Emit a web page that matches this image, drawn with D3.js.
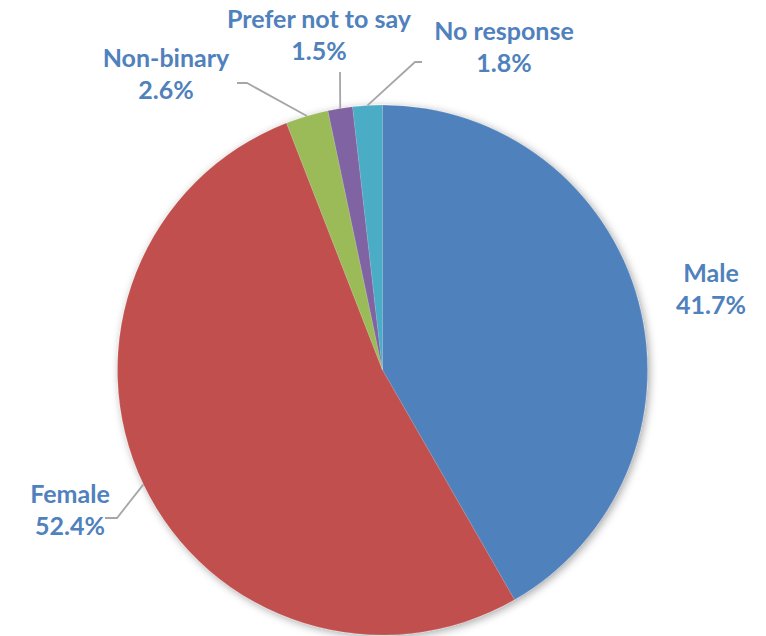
<!DOCTYPE html>
<html>
<head>
<meta charset="utf-8">
<script src="https://cdn.jsdelivr.net/npm/d3@7"></script>
<style>
  html, body { margin: 0; padding: 0; background: #fff; }
  svg { display: block; }
</style>
</head>
<body>
<script>
// Gender breakdown of respondents (percent)
const categories = ["Male", "Female", "Non-binary", "Prefer not to say", "No response"];
const values = [41.7, 52.4, 2.6, 1.5, 1.8];
const valueLabels = ["41.7%", "52.4%", "2.6%", "1.5%", "1.8%"];
const colors = ["#4F81BD", "#C0504D", "#9BBB59", "#8064A2", "#4BACC6"];

const W = 766, H = 636;
const cx = 382.5, cy = 370, R = 265;

// Label placement: text centre / first baseline, plus elbow points of the leader line
const labelLayout = [
  { x: 711, y: 282, leader: null },
  { x: 70,  y: 503, leader: [[117, 518], [105, 518]] },
  { x: 166, y: 67,  leader: [[247, 83], [237, 83]] },
  { x: 319, y: 28,  leader: [[340, 72]] },
  { x: 504, y: 40,  leader: [[415, 62], [422, 62]] }
];

const svg = d3.select("body").append("svg")
  .attr("width", W).attr("height", H);

const defs = svg.append("defs");
const f = defs.append("filter").attr("id", "pieShadow")
  .attr("x", "-10%").attr("y", "-10%").attr("width", "120%").attr("height", "120%");
f.append("feDropShadow")
  .attr("dx", 2).attr("dy", 2).attr("stdDeviation", 4)
  .attr("flood-color", "#000").attr("flood-opacity", 0.35);

const data = categories.map((c, i) => ({ name: c, value: values[i], label: valueLabels[i], color: colors[i] }));

const pie = d3.pie().value(d => d.value).sort(null);
const arcs = pie(data);
const arc = d3.arc().innerRadius(0).outerRadius(R);

const g = svg.append("g").attr("transform", `translate(${cx},${cy})`);

g.append("g").attr("filter", "url(#pieShadow)")
  .selectAll("path").data(arcs).join("path")
  .attr("d", arc)
  .attr("fill", d => d.data.color)
  .attr("stroke", "rgba(255,255,255,0.2)")
  .attr("stroke-width", 0.6);

// Leader lines: from the slice edge at its mid-angle to the label elbow
arcs.forEach((a, i) => {
  const lay = labelLayout[i];
  if (!lay.leader) return;
  const mid = (a.startAngle + a.endAngle) / 2;
  const start = [cx + R * Math.sin(mid), cy - R * Math.cos(mid)];
  const pts = [start, ...lay.leader];
  svg.append("path")
    .attr("d", d3.line()(pts))
    .attr("fill", "none")
    .attr("stroke", "#A6A6A6")
    .attr("stroke-width", 1.8);
});

// Category + percentage labels
arcs.forEach((a, i) => {
  const lay = labelLayout[i];
  const t = svg.append("text")
    .attr("x", lay.x).attr("y", lay.y)
    .attr("text-anchor", "middle")
    .attr("font-family", "Lato, 'Open Sans', sans-serif")
    .attr("font-weight", "bold")
    .attr("font-size", 25)
    .attr("fill", "#4F81BD");
  t.append("tspan").attr("x", lay.x).text(a.data.name);
  t.append("tspan").attr("x", lay.x).attr("dy", 32).text(a.data.label);
});
</script>
</body>
</html>
